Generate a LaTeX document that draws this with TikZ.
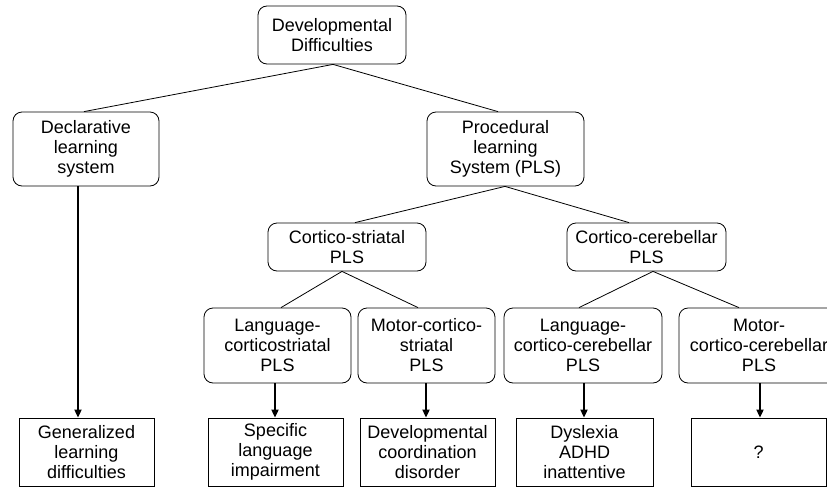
\documentclass[tikz,border=0pt]{standalone}
\usepackage{fontspec}
\setmainfont{Liberation Sans}
\usetikzlibrary{arrows.meta}
\begin{document}
\begin{tikzpicture}[x=1pt,y=-1pt,
  rbox/.style={draw,rounded corners=9pt,align=center,inner sep=0pt,line width=0.8pt,
    font=\fontsize{18}{20}\selectfont},
  sbox/.style={draw,align=center,inner sep=0pt,line width=0.8pt,
    font=\fontsize{18}{20}\selectfont},
  link/.style={line width=0.8pt},
  arr/.style={line width=1.8pt,-{Triangle[length=8pt,width=7pt]}}]
\useasboundingbox (0,0) rectangle (827,490);
\clip (0,0) rectangle (827,490);
\fill[white] (0,0) rectangle (827,490);
% rounded nodes
\node[rbox,minimum width=148pt,minimum height=58pt] (top) at (332,35) {Developmental\\Difficulties};
\node[rbox,minimum width=146pt,minimum height=74pt] (decl) at (86,149) {Declarative\\learning\\system};
\node[rbox,minimum width=157pt,minimum height=74pt] (proc) at (505.5,149) {Procedural\\learning\\System (PLS)};
\node[rbox,minimum width=158pt,minimum height=48pt] (cs) at (347,247) {Cortico-striatal\\PLS};
\node[rbox,minimum width=159pt,minimum height=48pt] (cc) at (646.5,247) {Cortico-cerebellar\\PLS};
\node[rbox,minimum width=147pt,minimum height=75pt] (lcs) at (277.5,345.5) {Language-\\corticostriatal\\PLS};
\node[rbox,minimum width=137pt,minimum height=75pt] (mcs) at (426.5,345.5) {Motor-cortico-\\striatal\\PLS};
\node[rbox,minimum width=158pt,minimum height=75pt] (lcc) at (583,345.5) {Language-\\cortico-cerebellar\\PLS};
\node[rbox,minimum width=160pt,minimum height=75pt] (mcc) at (759,345.5) {Motor-\\cortico-cerebellar\\PLS};
% square nodes
\node[sbox,minimum width=135pt,minimum height=68pt] (gen) at (86.5,452) {Generalized\\learning\\difficulties};
\node[sbox,minimum width=135pt,minimum height=68pt] (sli) at (275.5,452) {Specific\\language\\impairment};
\node[sbox,minimum width=135pt,minimum height=68pt] (dcd) at (427.5,452) {Developmental\\coordination\\disorder};
\node[sbox,minimum width=137pt,minimum height=68pt] (dys) at (584.5,452) {Dyslexia\\ADHD\\inattentive};
\node[sbox,minimum width=135pt,minimum height=68pt] (q) at (758.5,452) {?};
% links
\draw[link] ([xshift=1pt]top.south) -- ([xshift=-2pt]decl.north);
\draw[link] ([xshift=1pt]top.south) -- ([xshift=-7.5pt]proc.north);
\draw[link] ([xshift=-0.5pt]proc.south) -- ([xshift=8pt]cs.north);
\draw[link] ([xshift=-0.5pt]proc.south) -- ([xshift=-17.5pt]cc.north);
\draw[link] ([xshift=-5pt]cs.south) -- ([xshift=3.5pt]lcs.north);
\draw[link] ([xshift=-5pt]cs.south) -- ([xshift=-8.5pt]mcs.north);
\draw[link] ([xshift=6.5pt]cc.south) -- ([xshift=-4pt]lcc.north);
\draw[link] ([xshift=6.5pt]cc.south) -- ([xshift=-20pt]mcc.north);
% arrows
\draw[arr] (decl.south -| 78,0) -- (gen.north -| 78,0);
\draw[arr] (lcs.south -| 275,0) -- (sli.north -| 275,0);
\draw[arr] (mcs.south -| 426,0) -- (dcd.north -| 426,0);
\draw[arr] (lcc.south -| 584,0) -- (dys.north -| 584,0);
\draw[arr] (mcc.south -| 760,0) -- (q.north -| 760,0);
\end{tikzpicture}
\end{document}
